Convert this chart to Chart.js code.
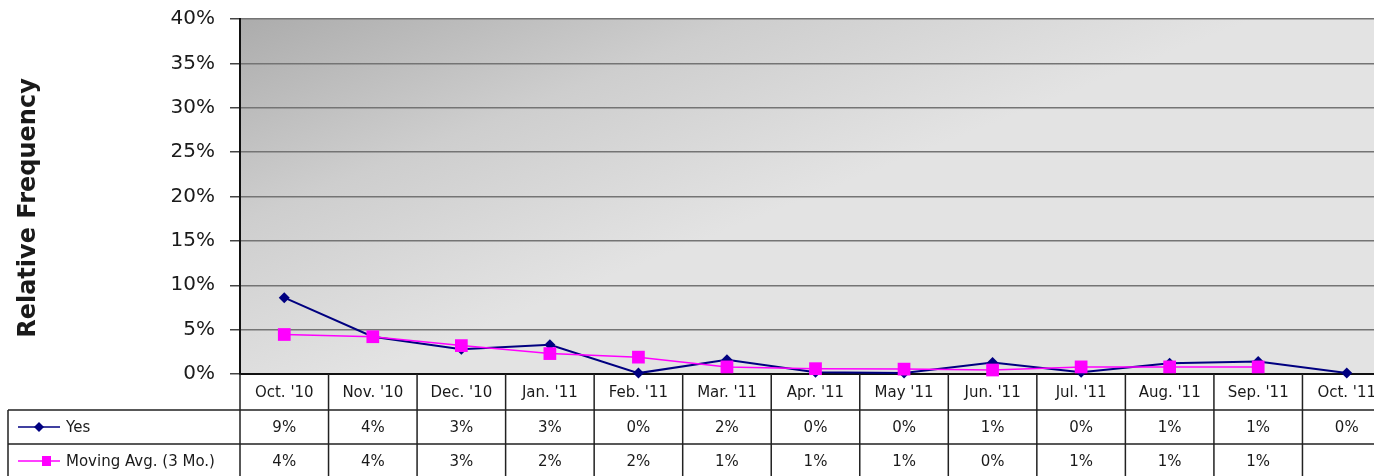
<!DOCTYPE html>
<html>
<head>
<meta charset="utf-8">
<script src="https://cdn.jsdelivr.net/npm/chart.js@4.4.0/dist/chart.umd.min.js"></script>
<style>
html, body { margin: 0; padding: 0; background: #fff; overflow: hidden; }
#wrap { position: absolute; left: 0; top: -8px; width: 1400px; height: 484px; }
</style>
</head>
<body>
<div id="wrap"><canvas id="canvas"></canvas></div>
<script>
const months = ["Oct. '10", "Nov. '10", "Dec. '10", "Jan. '11", "Feb. '11", "Mar. '11", "Apr. '11",
	"May '11", "Jun. '11", "Jul. '11", "Aug. '11", "Sep. '11", "Oct. '11"];
const yesValues = [8.6, 4.2, 2.8, 3.3, 0.1, 1.6, 0.2, 0.1, 1.3, 0.2, 1.2, 1.4, 0.1];
const movingAvg = [4.45, 4.2, 3.2, 2.3, 1.9, 0.8, 0.6, 0.55, 0.45, 0.8, 0.8, 0.8, null];
const seriesNames = ['Yes', 'Moving Avg. (3 Mo.)'];
const yMax = 40;
const yStep = 5;
const yTitle = 'Relative Frequency';

const NAVY = '#000080';
const MAGENTA = '#ff00ff';
const FONT = '"DejaVu Sans", Arial, sans-serif';

function pct(v) { return (v === null || v === undefined) ? '' : Math.round(v) + '%'; }

// gradient plot background (dark in the top-left corner)
const bgPlugin = {
	id: 'plotBg',
	beforeDraw(c) {
		const { ctx, chartArea: a } = c;
		const g = ctx.createLinearGradient(a.left, a.top, a.left + 140, a.top + 350);
		g.addColorStop(0, '#acacac');
		g.addColorStop(0.5, '#cecece');
		g.addColorStop(1, '#e3e3e3');
		ctx.save();
		ctx.fillStyle = g;
		ctx.fillRect(a.left, a.top, a.right - a.left, a.bottom - a.top);
		ctx.restore();
	}
};

// data table under the plot + rotated y title
const tablePlugin = {
	id: 'dataTable',
	afterDraw(c) {
		const { ctx, chartArea: a } = c;
		const xs = c.scales.x;
		const half = (xs.getPixelForValue(1) - xs.getPixelForValue(0)) / 2;
		const top = a.bottom;
		const r1 = top + 36, r2 = top + 70, bottom = top + 104;
		ctx.save();
		ctx.strokeStyle = '#222';
		ctx.lineWidth = 1.5;
		ctx.beginPath();
		ctx.moveTo(8, r1); ctx.lineTo(c.width, r1);
		ctx.moveTo(8, r2); ctx.lineTo(c.width, r2);
		ctx.moveTo(8, r1); ctx.lineTo(8, bottom);
		for (let i = 0; i <= months.length; i++) {
			const bx = xs.getPixelForValue(0) - half + i * 2 * half;
			ctx.moveTo(bx, top); ctx.lineTo(bx, bottom);
		}
		ctx.stroke();

		ctx.fillStyle = '#1a1a1a';
		ctx.font = '15px ' + FONT;
		ctx.textAlign = 'center';
		ctx.textBaseline = 'middle';
		months.forEach((m, i) => {
			const cx = xs.getPixelForValue(i);
			ctx.fillText(m, cx, (top + r1) / 2 + 1);
			ctx.fillText(pct(yesValues[i]), cx, (r1 + r2) / 2 + 1);
			ctx.fillText(pct(movingAvg[i]), cx, (r2 + bottom) / 2 + 1);
		});

		// row keys
		const y1 = (r1 + r2) / 2, y2 = (r2 + bottom) / 2;
		ctx.lineWidth = 1.5;
		ctx.strokeStyle = NAVY;
		ctx.beginPath(); ctx.moveTo(18, y1); ctx.lineTo(60, y1); ctx.stroke();
		ctx.fillStyle = NAVY;
		ctx.beginPath();
		ctx.moveTo(39, y1 - 5); ctx.lineTo(44, y1); ctx.lineTo(39, y1 + 5); ctx.lineTo(34, y1);
		ctx.closePath(); ctx.fill();
		ctx.strokeStyle = MAGENTA;
		ctx.beginPath(); ctx.moveTo(18, y2); ctx.lineTo(60, y2); ctx.stroke();
		ctx.fillStyle = MAGENTA;
		ctx.fillRect(42, y2 - 5, 9, 10);

		ctx.fillStyle = '#1a1a1a';
		ctx.textAlign = 'left';
		ctx.fillText(seriesNames[0], 66, y1 + 1);
		ctx.fillText(seriesNames[1], 66, y2 + 1);

		// axis title
		ctx.translate(29, 216);
		ctx.rotate(-Math.PI / 2);
		ctx.font = 'bold 24px ' + FONT;
		ctx.textAlign = 'center';
		ctx.fillText(yTitle, 0, 0);
		ctx.restore();
	}
};

const ctx = document.getElementById('canvas').getContext('2d');
new Chart(ctx, {
	type: 'line',
	data: {
		labels: months,
		datasets: [
			{
				label: seriesNames[1],
				data: movingAvg,
				borderColor: MAGENTA,
				backgroundColor: MAGENTA,
				borderWidth: 1.5,
				pointStyle: 'rect',
				pointRadius: 9,
				pointBorderWidth: 0,
				tension: 0,
				clip: false,
				order: 0
			},
			{
				label: seriesNames[0],
				data: yesValues,
				borderColor: NAVY,
				backgroundColor: NAVY,
				borderWidth: 2,
				pointStyle: 'rectRot',
				pointRadius: 5.5,
				pointBorderWidth: 0,
				tension: 0,
				clip: false,
				order: 1
			}
		]
	},
	options: {
		responsive: true,
		maintainAspectRatio: false,
		animation: false,
		layout: { padding: { top: 9, right: 6, left: 0, bottom: 0 } },
		plugins: { legend: { display: false }, tooltip: { enabled: false } },
		scales: {
			x: {
				offset: true,
				ticks: { display: false },
				grid: { display: false },
				border: { display: true, color: '#111', width: 2 },
				afterFit: (s) => { s.height = 102; }
			},
			y: {
				min: 0,
				max: yMax,
				ticks: {
					stepSize: yStep,
					padding: 15,
					color: '#1a1a1a',
					font: { family: FONT, size: 20 },
					callback: (v) => v + '%'
				},
				grid: { color: '#747474', lineWidth: 1.5, tickLength: 10, tickColor: '#444' },
				border: { display: true, color: '#111', width: 2 },
				afterFit: (s) => { s.width = 240; }
			}
		}
	},
	plugins: [bgPlugin, tablePlugin]
});
</script>
</body>
</html>
